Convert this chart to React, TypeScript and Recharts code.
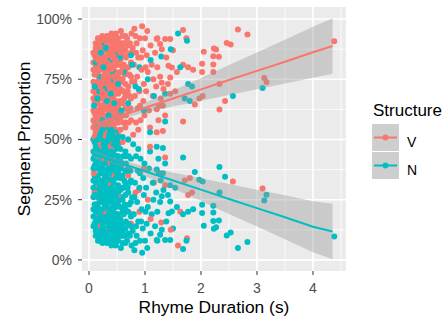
import {
  ComposedChart,
  Scatter,
  Area,
  Line,
  XAxis,
  YAxis,
  CartesianGrid,
  Legend,
} from "recharts";

const FONT = "'Liberation Sans', Arial, sans-serif";
const V_COLOR = "#F8766D";
const N_COLOR = "#00BFC4";

// dense cluster of short rhymes: one duration per column, shares per structure
const coreDurations = [
  0.08, 0.12, 0.16, 0.2, 0.24, 0.28, 0.32, 0.36, 0.4, 0.44, 0.48, 0.52, 0.56,
  0.1, 0.18, 0.26, 0.34, 0.42, 0.5, 0.6, 0.65, 0.7, 0.75,
];

const vowelCore = [
  [0.5, 0.55, 0.58, 0.62, 0.67, 0.7, 0.74, 0.79, 0.82, 0.86],
  [0.48, 0.53, 0.56, 0.6, 0.65, 0.68, 0.72, 0.77, 0.8, 0.84, 0.88, 0.9],
  [0.47, 0.5, 0.54, 0.59, 0.62, 0.66, 0.71, 0.74, 0.78, 0.83, 0.86, 0.9, 0.92],
  [0.48, 0.52, 0.57, 0.6, 0.64, 0.69, 0.72, 0.76, 0.81, 0.84, 0.88, 0.92],
  [0.46, 0.5, 0.55, 0.58, 0.62, 0.67, 0.7, 0.74, 0.79, 0.82, 0.86, 0.9, 0.93],
  [0.48, 0.53, 0.56, 0.6, 0.65, 0.68, 0.72, 0.77, 0.8, 0.84, 0.89, 0.92],
  [0.46, 0.51, 0.54, 0.58, 0.63, 0.66, 0.7, 0.75, 0.78, 0.82, 0.87, 0.9, 0.93],
  [0.48, 0.52, 0.57, 0.6, 0.64, 0.69, 0.72, 0.76, 0.81, 0.84, 0.88, 0.92],
  [0.46, 0.5, 0.55, 0.58, 0.62, 0.67, 0.7, 0.74, 0.79, 0.82, 0.86, 0.91, 0.94],
  [0.49, 0.52, 0.56, 0.61, 0.64, 0.68, 0.73, 0.76, 0.8, 0.85, 0.88, 0.92],
  [0.47, 0.5, 0.54, 0.59, 0.62, 0.66, 0.71, 0.74, 0.78, 0.83, 0.86, 0.9, 0.94],
  [0.49, 0.52, 0.57, 0.6, 0.64, 0.69, 0.72, 0.76, 0.81, 0.84, 0.88, 0.92],
  [0.54, 0.59, 0.62, 0.66, 0.71, 0.74, 0.78, 0.83, 0.86, 0.9],
  [0.51, 0.57, 0.61, 0.65, 0.73, 0.77, 0.85],
  [0.49, 0.55, 0.61, 0.67, 0.73, 0.79, 0.85, 0.89],
  [0.48, 0.52, 0.6, 0.64, 0.69, 0.76, 0.81, 0.88, 0.91],
  [0.5, 0.56, 0.62, 0.68, 0.74, 0.8, 0.85, 0.91],
  [0.48, 0.54, 0.6, 0.66, 0.71, 0.78, 0.84, 0.9],
  [0.51, 0.57, 0.64, 0.7, 0.77, 0.81, 0.88, 0.92],
  [0.6, 0.65, 0.7, 0.75, 0.8, 0.85, 0.9],
  [0.57, 0.63, 0.68, 0.73, 0.79, 0.87, 0.93],
  [0.62, 0.72, 0.8, 0.89],
  [0.58, 0.67, 0.76, 0.86],
];

const nasalCore = [
  [0.5, 0.45, 0.42, 0.38, 0.33, 0.3, 0.26, 0.21, 0.18, 0.14],
  [0.52, 0.47, 0.44, 0.4, 0.35, 0.32, 0.28, 0.23, 0.2, 0.16, 0.12, 0.1],
  [0.53, 0.5, 0.46, 0.41, 0.38, 0.34, 0.29, 0.26, 0.22, 0.17, 0.14, 0.1, 0.08],
  [0.52, 0.48, 0.43, 0.4, 0.36, 0.31, 0.28, 0.24, 0.19, 0.16, 0.12, 0.08],
  [0.54, 0.5, 0.45, 0.42, 0.38, 0.33, 0.3, 0.26, 0.21, 0.18, 0.14, 0.1, 0.07],
  [0.52, 0.47, 0.44, 0.4, 0.35, 0.32, 0.28, 0.23, 0.2, 0.16, 0.11, 0.08],
  [0.54, 0.49, 0.46, 0.42, 0.37, 0.34, 0.3, 0.25, 0.22, 0.18, 0.13, 0.1, 0.07],
  [0.52, 0.48, 0.43, 0.4, 0.36, 0.31, 0.28, 0.24, 0.19, 0.16, 0.12, 0.08],
  [0.54, 0.5, 0.45, 0.42, 0.38, 0.33, 0.3, 0.26, 0.21, 0.18, 0.14, 0.09, 0.06],
  [0.51, 0.48, 0.44, 0.39, 0.36, 0.32, 0.27, 0.24, 0.2, 0.15, 0.12, 0.08],
  [0.53, 0.5, 0.46, 0.41, 0.38, 0.34, 0.29, 0.26, 0.22, 0.17, 0.14, 0.1, 0.06],
  [0.51, 0.48, 0.43, 0.4, 0.36, 0.31, 0.28, 0.24, 0.19, 0.16, 0.12, 0.08],
  [0.46, 0.41, 0.38, 0.34, 0.29, 0.26, 0.22, 0.17, 0.14, 0.1],
  [0.49, 0.43, 0.39, 0.35, 0.27, 0.23, 0.15],
  [0.51, 0.45, 0.39, 0.33, 0.27, 0.21, 0.15, 0.11],
  [0.52, 0.48, 0.4, 0.36, 0.31, 0.24, 0.19, 0.12, 0.09],
  [0.5, 0.44, 0.38, 0.32, 0.26, 0.2, 0.15, 0.09],
  [0.52, 0.46, 0.4, 0.34, 0.29, 0.22, 0.16, 0.1],
  [0.49, 0.43, 0.36, 0.3, 0.23, 0.19, 0.12, 0.08],
  [0.4, 0.35, 0.3, 0.25, 0.2, 0.15, 0.1],
  [0.43, 0.37, 0.32, 0.27, 0.21, 0.13, 0.07],
  [0.38, 0.28, 0.2, 0.11],
  [0.42, 0.33, 0.24, 0.14],
];

// the remaining rhymes, [duration (s), share]
const vowelOuter: [number, number][] = [
  [0.1, 0.28], [0.12, 0.18], [0.15, 0.33], [0.18, 0.24], [0.21, 0.14], [0.23, 0.36],
  [0.26, 0.2], [0.28, 0.29], [0.3, 0.12], [0.33, 0.26], [0.35, 0.4], [0.37, 0.17],
  [0.39, 0.31], [0.42, 0.22], [0.45, 0.35], [0.48, 0.15], [0.52, 0.27], [0.55, 0.16],
  [0.58, 0.38], [0.14, 0.45], [0.24, 0.42], [0.17, 0.3], [0.32, 0.34], [0.44, 0.25],
  [0.09, 0.36], [0.27, 0.11],
  [0.57, 0.95], [0.6, 0.88], [0.62, 0.81], [0.58, 0.74], [0.63, 0.67], [0.57, 0.61],
  [0.65, 0.55], [0.6, 0.49], [0.68, 0.92], [0.7, 0.85], [0.72, 0.77], [0.69, 0.7],
  [0.74, 0.63], [0.71, 0.57], [0.76, 0.94], [0.78, 0.88], [0.8, 0.81], [0.77, 0.74],
  [0.82, 0.68], [0.79, 0.52], [0.85, 0.9], [0.88, 0.84], [0.86, 0.76], [0.9, 0.7],
  [0.87, 0.63], [0.92, 0.58], [0.95, 0.97], [0.96, 0.87], [0.94, 0.79], [0.98, 0.73],
  [0.97, 0.66], [1.0, 0.92], [1.03, 0.85], [1.05, 0.78], [1.02, 0.7], [1.07, 0.62],
  [1.1, 0.89], [1.12, 0.81], [1.15, 0.75], [1.09, 0.55], [1.18, 0.86], [1.2, 0.72],
  [1.22, 0.92], [1.25, 0.64], [0.64, 0.9], [0.83, 0.93], [0.66, 0.6], [0.84, 0.57],
  [0.99, 0.6], [1.14, 0.68],
  [0.6, 0.93], [0.62, 0.7], [0.66, 0.84], [0.64, 0.77], [0.67, 0.63], [0.73, 0.9],
  [0.75, 0.82], [0.73, 0.68], [0.81, 0.96], [0.84, 0.86], [0.81, 0.74], [0.91, 0.92],
  [0.93, 0.84], [0.91, 0.64], [1.01, 0.8], [1.04, 0.95], [0.61, 0.57], [0.7, 0.5],
  [0.88, 0.54],
  [0.62, 0.22], [0.7, 0.35], [0.75, 0.15], [0.83, 0.28], [0.9, 0.2], [0.98, 0.38],
  [1.05, 0.25], [1.1, 0.17], [1.16, 0.32], [0.77, 0.19], [0.89, 0.29], [1.09, 0.47],
  [1.21, 0.917], [1.3, 0.875], [1.27, 0.896], [1.36, 0.917], [1.45, 0.917],
  [1.42, 0.806], [1.48, 0.799], [1.45, 0.757], [1.3, 0.736], [1.68, 0.955], [1.74, 0.92],
  [1.68, 0.81], [1.77, 0.8], [1.86, 0.79], [1.77, 0.27], [1.84, 0.28], [1.71, 0.33],
  [1.8, 0.34], [2.02, 0.814], [2.02, 0.78], [2.05, 0.864], [2.23, 0.878], [2.27, 0.874],
  [2.22, 0.846], [2.32, 0.843], [2.22, 0.811], [2.22, 0.78], [2.46, 0.901], [2.53, 0.894],
  [2.66, 0.957], [2.83, 0.936], [2.33, 0.73], [2.43, 0.66], [2.33, 0.624], [2.03, 0.68],
  [1.97, 0.67], [1.89, 0.645], [1.68, 0.575], [1.32, 0.64], [1.45, 0.69], [1.36, 0.6],
  [1.27, 0.76], [1.21, 0.625], [1.41, 0.73], [1.54, 0.7], [1.32, 0.535], [1.21, 0.53],
  [1.59, 0.06], [1.75, 0.09], [1.46, 0.125], [1.29, 0.155], [1.63, 0.2], [1.36, 0.31],
  [2.57, 0.326], [1.36, 0.425], [3.1, 0.296], [3.13, 0.755], [3.17, 0.739], [4.38, 0.908],
  [1.24, 0.58], [1.28, 0.67], [1.33, 0.71], [1.22, 0.8], [1.38, 0.84], [1.5, 0.87],
  [1.57, 0.78],
];

const nasalOuter: [number, number][] = [
  [0.1, 0.72], [0.12, 0.82], [0.15, 0.67], [0.18, 0.76], [0.21, 0.86], [0.23, 0.64],
  [0.26, 0.8], [0.28, 0.71], [0.3, 0.88], [0.33, 0.74], [0.35, 0.6], [0.37, 0.83],
  [0.39, 0.69], [0.42, 0.78], [0.45, 0.65], [0.48, 0.85], [0.52, 0.73], [0.55, 0.84],
  [0.58, 0.62], [0.14, 0.55], [0.24, 0.58], [0.17, 0.7], [0.32, 0.66], [0.44, 0.75],
  [0.09, 0.64], [0.27, 0.89],
  [0.57, 0.05], [0.6, 0.12], [0.62, 0.19], [0.58, 0.26], [0.63, 0.33], [0.57, 0.39],
  [0.65, 0.45], [0.6, 0.51], [0.68, 0.08], [0.7, 0.15], [0.72, 0.23], [0.69, 0.3],
  [0.74, 0.37], [0.71, 0.43], [0.76, 0.06], [0.78, 0.12], [0.8, 0.19], [0.77, 0.26],
  [0.82, 0.32], [0.79, 0.48], [0.85, 0.1], [0.88, 0.16], [0.86, 0.24], [0.9, 0.3],
  [0.87, 0.37], [0.92, 0.42], [0.95, 0.03], [0.96, 0.13], [0.94, 0.21], [0.98, 0.27],
  [0.97, 0.34], [1.0, 0.08], [1.03, 0.15], [1.05, 0.22], [1.02, 0.3], [1.07, 0.38],
  [1.1, 0.11], [1.12, 0.19], [1.15, 0.25], [1.09, 0.45], [1.18, 0.14], [1.2, 0.28],
  [1.22, 0.08], [1.25, 0.36], [0.64, 0.1], [0.83, 0.07], [0.66, 0.4], [0.84, 0.43],
  [0.99, 0.4], [1.14, 0.32],
  [0.6, 0.07], [0.62, 0.3], [0.66, 0.16], [0.64, 0.23], [0.67, 0.37], [0.73, 0.1],
  [0.75, 0.18], [0.73, 0.32], [0.81, 0.04], [0.84, 0.14], [0.81, 0.26], [0.91, 0.08],
  [0.93, 0.16], [0.91, 0.36], [1.01, 0.2], [1.04, 0.05], [0.61, 0.43], [0.7, 0.5],
  [0.88, 0.46],
  [0.62, 0.78], [0.7, 0.65], [0.75, 0.85], [0.83, 0.72], [0.9, 0.8], [0.98, 0.62],
  [1.05, 0.75], [1.1, 0.83], [1.16, 0.68], [0.77, 0.81], [0.89, 0.71], [1.09, 0.53],
  [1.21, 0.083], [1.3, 0.125], [1.27, 0.104], [1.36, 0.083], [1.45, 0.083],
  [1.42, 0.194], [1.48, 0.201], [1.45, 0.243], [1.3, 0.264], [1.68, 0.045], [1.74, 0.08],
  [1.68, 0.19], [1.77, 0.2], [1.86, 0.21], [1.77, 0.73], [1.84, 0.72], [1.71, 0.67],
  [1.8, 0.66], [2.02, 0.195], [2.02, 0.229], [2.05, 0.142], [2.23, 0.129], [2.27, 0.136],
  [2.22, 0.162], [2.32, 0.164], [2.22, 0.197], [2.22, 0.225], [2.46, 0.101], [2.53, 0.114],
  [2.66, 0.049], [2.83, 0.074], [2.33, 0.28], [2.43, 0.345], [2.33, 0.386], [2.03, 0.326],
  [1.97, 0.333], [1.89, 0.365], [1.68, 0.425], [1.32, 0.36], [1.45, 0.31], [1.36, 0.4],
  [1.27, 0.24], [1.21, 0.375], [1.41, 0.27], [1.54, 0.3], [1.32, 0.465], [1.21, 0.47],
  [1.59, 0.94], [1.75, 0.91], [1.46, 0.875], [1.29, 0.845], [1.63, 0.8], [1.36, 0.69],
  [2.57, 0.68], [1.36, 0.575], [3.1, 0.714], [3.13, 0.247], [3.17, 0.271], [4.38, 0.097],
  [1.24, 0.42], [1.28, 0.33], [1.33, 0.29], [1.22, 0.2], [1.38, 0.16], [1.5, 0.13],
  [1.57, 0.22],
];

// linear fits with their 95% bands
const fitDurations = [0.08, 0.5, 1, 1.5, 2, 2.5, 3, 3.5, 4, 4.35];
const vowelFit = [0.561, 0.593, 0.632, 0.67, 0.708, 0.747, 0.785, 0.823, 0.862, 0.888];
const nasalFit = [0.439, 0.407, 0.368, 0.33, 0.292, 0.253, 0.215, 0.177, 0.138, 0.118];
const bandHalf = [0.016, 0.012, 0.02, 0.033, 0.047, 0.062, 0.076, 0.091, 0.106, 0.115];

const yTicks = [0, 0.25, 0.5, 0.75, 1];
const xTicks = [0, 1, 2, 3, 4];
const yMinor = [0.125, 0.375, 0.625, 0.875];
const xMinor = [0.5, 1.5, 2.5, 3.5, 4.5];

const toPoints = (cols: number[][], outer: [number, number][]) => [
  ...cols.flatMap((ys, i) => ys.map((y) => ({ x: coreDurations[i], y }))),
  ...outer.map(([x, y]) => ({ x, y })),
];

const vowelPoints = toPoints(vowelCore, vowelOuter);
const nasalPoints = toPoints(nasalCore, nasalOuter);
const half = (pts: { x: number; y: number }[], r: number) =>
  pts.filter((_, i) => i % 2 === r);

const fitRows = fitDurations.map((x, i) => ({
  x,
  vFit: vowelFit[i],
  nFit: nasalFit[i],
  vBand: [vowelFit[i] - bandHalf[i], vowelFit[i] + bandHalf[i]],
  nBand: [nasalFit[i] - bandHalf[i], nasalFit[i] + bandHalf[i]],
}));

const dot = (color: string) => (p: any) =>
  <circle cx={p.cx} cy={p.cy} r={3} fill={color} />;

const renderYTitle = (props: any) => {
  const vb = props.viewBox;
  const cy = vb.y + vb.height / 2;
  return (
    <text
      x={30}
      y={cy}
      transform={`rotate(-90, 30, ${cy})`}
      textAnchor="middle"
      fontSize={17.4}
      fontFamily={FONT}
      fill="#000"
    >
      Segment Proportion
    </text>
  );
};

const renderXTitle = (props: any) => {
  const vb = props.viewBox;
  return (
    <text
      x={vb.x + vb.width / 2}
      y={vb.y + 42}
      textAnchor="middle"
      fontSize={17.4}
      fontFamily={FONT}
      fill="#000"
    >
      Rhyme Duration (s)
    </text>
  );
};

const legendRows = [
  { label: "V", color: V_COLOR },
  { label: "N", color: N_COLOR },
];

function StructureLegend() {
  return (
    <svg width={80} height={90} style={{ display: "block" }}>
      <text x={5} y={18} fontSize={17} fontFamily={FONT} fill="#000">
        Structure
      </text>
      {legendRows.map((r, i) => {
        const top = 26 + i * 28;
        return (
          <g key={r.label}>
            <rect x={4} y={top} width={27} height={27} fill="#F2F2F2" />
            <rect x={4} y={top} width={27} height={27} fill="#999999" fillOpacity={0.4} />
            <line x1={6} x2={29} y1={top + 13.5} y2={top + 13.5} stroke={r.color} strokeWidth={2} />
            <circle cx={17.5} cy={top + 13.5} r={2.9} fill={r.color} />
            <text x={39} y={top + 22.5} fontSize={14} fontFamily={FONT} fill="#000">
              {r.label}
            </text>
          </g>
        );
      })}
    </svg>
  );
}

export default function App() {
  const tickStyle = { fill: "#4D4D4D", fontSize: 14, fontFamily: FONT };
  return (
    <div style={{ position: "absolute", left: 0, top: 0, background: "#fff" }}>
      <ComposedChart
        width={448}
        height={322}
        data={fitRows}
        margin={{ top: 7, right: 102, bottom: 0, left: 0 }}
      >
        <CartesianGrid
          fill="#EBEBEB"
          stroke="#FFFFFF"
          strokeWidth={0.8}
          horizontalValues={yMinor}
          verticalValues={xMinor}
        />
        <CartesianGrid
          stroke="#FFFFFF"
          strokeWidth={1.6}
          horizontalValues={yTicks}
          verticalValues={xTicks}
        />
        <XAxis
          type="number"
          dataKey="x"
          domain={[-0.125, 4.59]}
          allowDataOverflow
          ticks={xTicks}
          height={51}
          axisLine={false}
          tickLine={{ stroke: "#333333" }}
          tickSize={4}
          tickMargin={8}
          tick={tickStyle}
          label={renderXTitle}
        />
        <YAxis
          type="number"
          domain={[-0.046, 1.05]}
          allowDataOverflow
          ticks={yTicks}
          width={82}
          axisLine={false}
          tickLine={{ stroke: "#333333" }}
          tickSize={4}
          tickMargin={6}
          tick={tickStyle}
          tickFormatter={(v: number) => `${Math.round(v * 100)}%`}
          label={renderYTitle}
        />
        <Scatter data={half(vowelPoints, 0)} dataKey="y" shape={dot(V_COLOR)} isAnimationActive={false} zIndex={150} />
        <Scatter data={half(nasalPoints, 0)} dataKey="y" shape={dot(N_COLOR)} isAnimationActive={false} zIndex={150} />
        <Scatter data={half(vowelPoints, 1)} dataKey="y" shape={dot(V_COLOR)} isAnimationActive={false} zIndex={150} />
        <Scatter data={half(nasalPoints, 1)} dataKey="y" shape={dot(N_COLOR)} isAnimationActive={false} zIndex={150} />
        <Area dataKey="vBand" type="linear" fill="#999999" fillOpacity={0.4} stroke="none" isAnimationActive={false} zIndex={200} />
        <Area dataKey="nBand" type="linear" fill="#999999" fillOpacity={0.4} stroke="none" isAnimationActive={false} zIndex={200} />
        <Line dataKey="vFit" type="linear" stroke={V_COLOR} strokeWidth={2} dot={false} activeDot={false} isAnimationActive={false} zIndex={250} />
        <Line dataKey="nFit" type="linear" stroke={N_COLOR} strokeWidth={2} dot={false} activeDot={false} isAnimationActive={false} zIndex={250} />
        <Legend
          layout="vertical"
          align="center"
          verticalAlign="middle"
          wrapperStyle={{ left: 368, top: 98, width: 80, height: 90 }}
          content={() => <StructureLegend />}
        />
      </ComposedChart>
    </div>
  );
}
